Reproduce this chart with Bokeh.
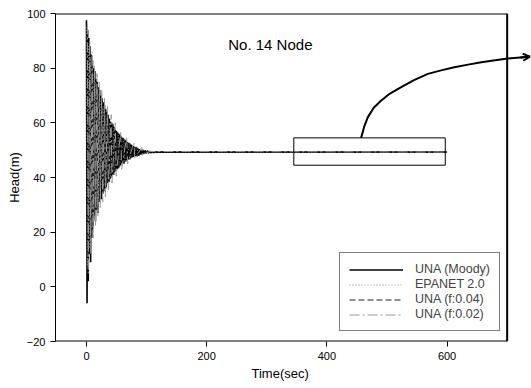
from bokeh.plotting import figure
from bokeh.models import Range1d, FixedTicker, Legend, LegendItem, Label, Arrow, OpenHead, Title
from bokeh.embed import file_html
from bokeh.resources import INLINE

# ---- data ----
x_ticks = [0, 200, 400, 600]
y_ticks = [-20, 0, 20, 40, 60, 80, 100]

moody_t = [0, 1, 2, 3, 4, 5, 6, 7, 8, 9, 10, 11, 12, 13, 14, 15, 16, 17, 18, 19,
           20, 21, 22, 23, 24, 25, 26, 27, 28, 29, 30, 31, 32, 33, 34, 35, 36, 37, 38, 39,
           40, 41, 42, 43, 44, 45, 46, 47, 48, 49, 50, 51, 52, 53, 54, 55, 56, 57, 58, 59,
           60, 61, 62, 63, 64, 65, 66, 67, 68, 69, 70, 71, 72, 73, 74, 75, 76, 77, 78, 79,
           80, 81, 82, 83, 84, 85, 86, 87, 88, 89, 90, 91, 94, 95, 98, 99, 102, 103, 106, 107,
           110, 111, 115, 116, 120, 600]
moody_h = [97.5, -6, 94, 2, 91, 12, 88, 9, 85, 18, 83, 22, 80, 26, 79, 24, 76, 28, 75, 27,
           73, 31, 72, 33, 70, 32, 69, 34, 67.5, 35, 66.5, 36, 65, 36.5, 64, 38, 63, 38.5, 61.5, 39.5,
           60.5, 40, 60, 41, 59, 41.5, 58.5, 42, 57.5, 42.5, 57, 43, 56.5, 43.5, 56, 44, 55.5, 44.5, 55, 45,
           54.5, 45.3, 54.2, 45.6, 53.8, 45.9, 53.4, 46.2, 53, 46.5, 52.7, 46.7, 52.4, 47, 52.1, 47.2, 51.8, 47.4, 51.5, 47.6,
           51.2, 47.8, 51, 47.9, 50.8, 48.1, 50.6, 48.2, 50.4, 48.4, 50.3, 48.5, 50.1, 48.6, 49.9, 48.8, 49.8, 48.9, 49.6, 49.0,
           49.5, 49.1, 49.4, 49.2, 49.3, 49.3]

epa_t = [0.5, 1.5, 3.5, 4.5, 6.5, 7.5, 9.5, 10.5, 12.5, 13.5, 15.5, 16.5, 18.5, 19.5, 22.5, 23.5,
         27.5, 28.5, 32.5, 33.5, 38.5, 39.5, 45.5, 46.5, 53.5, 54.5, 62.5, 63.5, 72.5, 73.5, 84.5, 85.5, 100, 600]
epa_h = [95, 8, 88, 14, 84, 17, 81, 23, 78, 25, 75, 28, 72, 30, 69, 33,
         66, 35, 63, 37, 60, 40, 58, 42, 55.5, 44, 54, 45.5, 52.3, 47, 51, 48, 49.4, 49.3]

f04_t = [1, 2.5, 5, 6.5, 9, 10.5, 13, 14.5, 17, 18.5, 21, 22.5, 26, 27.5, 31, 32.5,
         37, 38.5, 44, 45.5, 52, 53.5, 61, 62.5, 71, 72.5, 83, 84.5, 100, 600]
f04_h = [92, 11, 86, 16, 82, 21, 77, 26, 74, 29, 71, 32, 68, 34, 65, 36,
         62, 38.5, 59.5, 41, 56.5, 43, 54.5, 45, 52.8, 46.5, 51.2, 47.8, 49.5, 49.3]

f02_t = [1.5, 3, 5.5, 7, 9.5, 11, 13.5, 15, 17.5, 19, 21.5, 23, 25.5, 27, 30, 31.5,
         35, 36.5, 41, 42.5, 48, 49.5, 57, 58.5, 67, 68.5, 79, 80.5, 92, 93.5, 105, 600]
f02_h = [96, 5, 90, 12, 86, 18, 81, 22, 78, 26, 75, 29, 72, 31, 69, 33,
         66, 35.5, 63, 38, 60, 40.5, 57, 43, 55, 45, 53, 46.8, 51, 48.2, 49.5, 49.3]

zoom_box = [345, 597, 44.5, 54.5]  # left, right, bottom, top
arrow_x = [457, 462, 468, 478, 490, 505, 523, 545, 568, 590, 612, 635, 657, 680, 701, 722, 738]
arrow_y = [54.5, 58.5, 62, 65.5, 68.1, 70.7, 73, 75.6, 77.9, 79.2, 80.3, 81.3, 82.2, 82.9, 83.5, 83.9, 84.2]

FONT = "Liberation Sans"

p = figure(width=531, height=388, output_backend="svg", toolbar_location=None,
           x_range=Range1d(-51.5, 740.5), y_range=Range1d(-20, 100),
           min_border_left=55, min_border_right=0, min_border_top=13, min_border_bottom=47)
p.outline_line_color = None
p.grid.visible = False
p.background_fill_color = "white"
p.border_fill_color = "white"

for ax in (p.xaxis[0], p.yaxis[0]):
    ax.major_label_text_font = FONT
    ax.major_label_text_font_size = "11px"
    ax.major_label_text_color = "black"
    ax.axis_label_text_font = FONT
    ax.axis_label_text_font_size = "13px"
    ax.axis_label_text_font_style = "normal"
    ax.axis_label_text_color = "black"
    ax.minor_tick_line_color = None
    ax.major_tick_in = 0
    ax.major_tick_out = 5
    ax.major_tick_line_color = "black"
    ax.major_label_standoff = 5

p.xaxis.ticker = FixedTicker(ticks=x_ticks)
p.yaxis.ticker = FixedTicker(ticks=y_ticks)
p.xaxis.axis_line_color = None
p.yaxis.axis_line_color = "black"
p.yaxis.axis_label = "Head(m)"
p.yaxis.axis_label_standoff = 2

xt = Title(text="Time(sec)", align="left", offset=196, text_font=FONT,
           text_font_size="13px", text_color="black", standoff=3)
xt.text_font_style = "normal"
p.add_layout(xt, "below")

# frame borders (top, right, bottom)
p.segment(x0=[-51.5, 700, -51.5], y0=[100, -20, -20], x1=[700, 700, 700], y1=[100, 100, -20],
          line_color="black", line_width=2)

r_moody = p.line(moody_t, moody_h, line_color="black", line_width=1.6)
r_epa = p.line(epa_t, epa_h, line_color="#888888", line_width=1, line_dash="1 2")
r_f04 = p.line(f04_t, f04_h, line_color="#222222", line_width=1, line_dash="6 3")
r_f02 = p.line(f02_t, f02_h, line_color="#999999", line_width=1, line_dash="10 3 2 3")

p.quad(left=[zoom_box[0]], right=[zoom_box[1]], bottom=[zoom_box[2]], top=[zoom_box[3]],
       fill_color=None, line_color="black", line_width=1)
p.line(arrow_x, arrow_y, line_color="black", line_width=2)
p.add_layout(Arrow(end=OpenHead(size=7, line_width=2, line_color="black"),
                   x_start=arrow_x[-2], y_start=arrow_y[-2], x_end=arrow_x[-1], y_end=arrow_y[-1],
                   line_color="black", line_width=2))

p.add_layout(Label(x=306, y=88.5, text="No. 14 Node", text_font=FONT, text_font_size="15px",
                   text_align="center", text_baseline="middle", text_color="black"))

legend = Legend(items=[LegendItem(label="UNA (Moody)", renderers=[r_moody]),
                       LegendItem(label="EPANET 2.0", renderers=[r_epa]),
                       LegendItem(label="UNA (f:0.04)", renderers=[r_f04]),
                       LegendItem(label="UNA (f:0.02)", renderers=[r_f02])],
                location=(284, 10), padding=9, spacing=1, margin=0,
                glyph_width=54, glyph_height=13, label_height=13, label_standoff=12,
                label_text_font=FONT, label_text_font_size="12.5px",
                border_line_color="black", border_line_width=1, background_fill_alpha=1)
p.add_layout(legend, "center")

open("out.html", "w").write(file_html(p, INLINE))
